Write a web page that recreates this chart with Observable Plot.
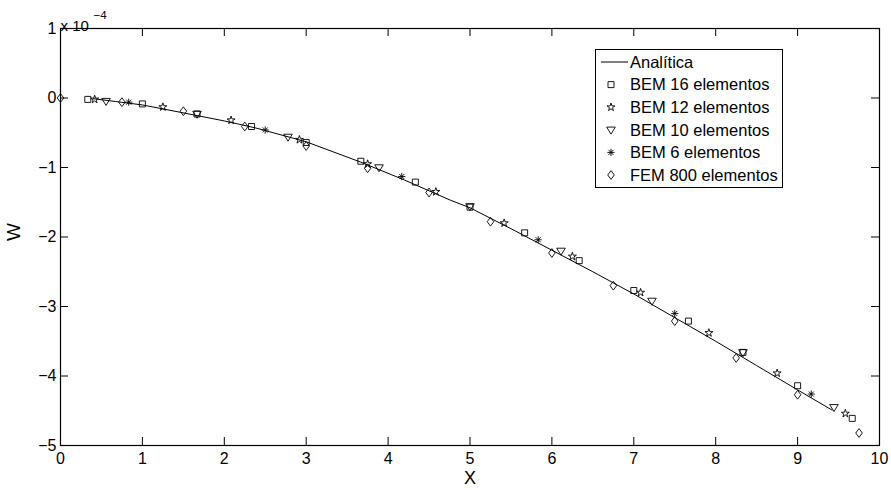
<!DOCTYPE html>
<html><head><meta charset="utf-8">
<script src="https://cdn.jsdelivr.net/npm/d3@7"></script>
<script src="https://cdn.jsdelivr.net/npm/@observablehq/plot@0.6"></script>
<style>
body{margin:0;background:#fff}
#chart{width:891px;height:490px}
</style>
</head><body><div id="chart"></div>
<script>
// ---- data (W in units of 1e-4) ----
const xTicks = [0,1,2,3,4,5,6,7,8,9,10];
const yTicks = [-5,-4,-3,-2,-1,0,1];

const xAnalitica = [0.4,0.67,1.0,1.57,2.0,2.38,3.0,3.66,4.2,4.76,5.0,5.5,6.0,6.5,7.0,7.5,8.0,8.5,9.0,9.42];
const wAnalitica = [-0.01,-0.05,-0.10,-0.23,-0.33,-0.43,-0.63,-0.92,-1.18,-1.47,-1.58,-1.88,-2.19,-2.50,-2.82,-3.16,-3.50,-3.85,-4.20,-4.49];

const xBem16 = [0.333,1.0,1.667,2.333,3.0,3.667,4.333,5.0,5.667,6.333,7.0,7.667,8.333,9.0,9.667];
const wBem16 = [-0.02,-0.085,-0.23,-0.41,-0.64,-0.91,-1.21,-1.57,-1.94,-2.34,-2.77,-3.21,-3.66,-4.14,-4.61];

const xBem12 = [0.417,1.25,2.083,2.917,3.75,4.583,5.417,6.25,7.083,7.917,8.75,9.583];
const wBem12 = [-0.02,-0.13,-0.32,-0.60,-0.95,-1.35,-1.80,-2.28,-2.80,-3.38,-3.96,-4.54];

const xBem10 = [0.556,1.667,2.778,3.889,5.0,6.111,7.222,8.333,9.444];
const wBem10 = [-0.045,-0.23,-0.56,-1.00,-1.56,-2.20,-2.92,-3.66,-4.45];

const xBem6 = [0.833,2.5,4.167,5.833,7.5,9.167];
const wBem6 = [-0.06,-0.46,-1.13,-2.04,-3.10,-4.26];

const xFem800 = [0,0.75,1.5,2.25,3.0,3.75,4.5,5.25,6.0,6.75,7.5,8.25,9.0,9.75];
const wFem800 = [0,-0.06,-0.19,-0.41,-0.69,-1.01,-1.36,-1.78,-2.23,-2.70,-3.21,-3.74,-4.27,-4.82];

const legendLabels = ["Analítica","BEM 16 elementos","BEM 12 elementos","BEM 10 elementos","BEM 6 elementos","FEM 800 elementos"];

// ---- marker shapes (MATLAB-like) ----
const symSquare = {draw(c){c.moveTo(-3,-3);c.lineTo(3,-3);c.lineTo(3,3);c.lineTo(-3,3);c.closePath();}};
const symStar = {draw(c){const R=4.2,r=R*0.382;for(let i=0;i<10;i++){const a=-Math.PI/2+i*Math.PI/5;const rr=i%2?r:R;const x=rr*Math.cos(a),y=rr*Math.sin(a);if(i)c.lineTo(x,y);else c.moveTo(x,y);}c.closePath();}};
const symTri = {draw(c){c.moveTo(-4.3,-2.7);c.lineTo(4.3,-2.7);c.lineTo(0,4.3);c.closePath();}};
const symAst = {draw(c){for(let i=0;i<4;i++){const a=i*Math.PI/4;const x=3.6*Math.cos(a),y=3.6*Math.sin(a);c.moveTo(-x,-y);c.lineTo(x,y);}}};
const symDia = {draw(c){c.moveTo(0,-4.4);c.lineTo(3.3,0);c.lineTo(0,4.4);c.lineTo(-3.3,0);c.closePath();}};

const zip = (xs, ws) => xs.map((x,i)=>({x, w: ws[i]}));
const analitica = zip(xAnalitica, wAnalitica);
const series = [
  {data: zip(xBem16,wBem16), symbol: symSquare},
  {data: zip(xBem12,wBem12), symbol: symStar},
  {data: zip(xBem10,wBem10), symbol: symTri},
  {data: zip(xBem6,wBem6), symbol: symAst},
  {data: zip(xFem800,wFem800), symbol: symDia}
];

const W = 891, H = 490, mL = 60, mR = 12, mT = 28, mB = 45;
const innerW = W - mL - mR, innerH = H - mT - mB;
const font = "'Liberation Sans', Arial, Helvetica, sans-serif";
const intFmt = d => (d < 0 ? "\u2212" : "") + Math.abs(d);

const chart = Plot.plot({
  width: W, height: H,
  marginLeft: mL, marginRight: mR, marginTop: mT, marginBottom: mB,
  style: {fontFamily: font, fontSize: "16px", color: "#000", background: "#fff"},
  x: {domain: [0, 10]},
  y: {domain: [-5, 1]},
  marks: [
    // inward ticks (bottom, top, left, right)
    Plot.ruleX(xTicks, {stroke: "#000", strokeWidth: 1, insetTop: innerH - 8}),
    Plot.ruleX(xTicks, {stroke: "#000", strokeWidth: 1, insetBottom: innerH - 8}),
    Plot.ruleY(yTicks, {stroke: "#000", strokeWidth: 1, insetRight: innerW - 8}),
    Plot.ruleY(yTicks, {stroke: "#000", strokeWidth: 1, insetLeft: innerW - 8}),
    Plot.axisX(xTicks, {anchor: "bottom", tickSize: 0, tickPadding: 7, label: null, fontSize: 16, tickFormat: intFmt}),
    Plot.axisY(yTicks, {anchor: "left", tickSize: 0, tickPadding: 4, label: null, fontSize: 16, tickFormat: intFmt}),
    Plot.frame({stroke: "#000", strokeWidth: 1.2}),
    Plot.line(analitica, {x: "x", y: "w", stroke: "#000", strokeWidth: 1}),
    ...series.map(s => Plot.dot(s.data, {x: "x", y: "w", symbol: s.symbol, r: 3, stroke: "#000", fill: "none", strokeWidth: 0.9})),
    Plot.text(["X"], {frameAnchor: "bottom", text: d => d, lineAnchor: "top", dy: 26, fontSize: 18}),
    Plot.text(["W"], {frameAnchor: "left", text: d => d, dx: -47, dy: 4, rotate: -90, fontSize: 19}),
    Plot.text(["x 10"], {frameAnchor: "top-left", text: d => d, textAnchor: "start", dx: 0, dy: -8, fontSize: 15}),
    Plot.text(["\u22124"], {frameAnchor: "top-left", text: d => d, textAnchor: "start", dx: 33, dy: -18, fontSize: 11.5})
  ]
});
document.getElementById("chart").appendChild(chart);

// ---- legend ----
const svg = d3.select(chart);
const lg = svg.append("g").attr("font-family", font).attr("font-size", 16.5).attr("text-anchor", "start");
lg.append("rect").attr("x", 595.5).attr("y", 49.5).attr("width", 187).attr("height", 138)
  .attr("fill", "#fff").attr("stroke", "#000").attr("stroke-width", 1);
const rowY = i => 62 + i * 22.6;
lg.append("line").attr("x1", 601).attr("x2", 628).attr("y1", rowY(0)).attr("y2", rowY(0))
  .attr("stroke", "#000").attr("stroke-width", 1);
series.forEach((s, i) => {
  lg.append("path").attr("d", d3.symbol().type(s.symbol)())
    .attr("transform", `translate(611,${rowY(i+1)})`)
    .attr("fill", "none").attr("stroke", "#000").attr("stroke-width", 0.9);
});
legendLabels.forEach((t, i) => {
  lg.append("text").attr("x", 630).attr("y", rowY(i)).attr("dy", "0.35em").text(t);
});
</script>
</body></html>
